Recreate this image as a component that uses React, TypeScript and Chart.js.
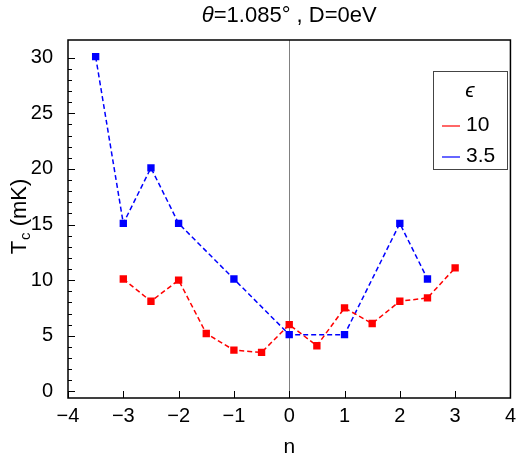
import React, { useEffect, useRef } from "react";
import { Chart, registerables } from "chart.js";

Chart.register(...registerables);

const nRed = [-3, -2.5, -2, -1.5, -1, -0.5, 0, 0.5, 1, 1.5, 2, 2.5, 3];
const tcRed = [10.1, 8.1, 10.0, 5.2, 3.7, 3.5, 6.0, 4.1, 7.5, 6.1, 8.1, 8.4, 11.1];
const nBlue = [-3.5, -3, -2.5, -2, -1, 0, 1, 2, 2.5];
const tcBlue = [30.1, 15.1, 20.1, 15.1, 10.1, 5.1, 5.1, 15.1, 10.1];
const seriesLabels = ["10", "3.5"];
const seriesColors = ["#ff0000", "#0000ff"];
const xTicks = [-4, -3, -2, -1, 0, 1, 2, 3, 4];
const yTicks = [0, 5, 10, 15, 20, 25, 30];
const yMinorTicks = Array.from({ length: 31 }, (_, i) => i);

const FONT = "'Liberation Sans', Arial, sans-serif";

const decorPlugin = {
  id: "decor",
  beforeDatasetsDraw(chart: any) {
    const { ctx, chartArea: a, scales } = chart;
    const x0 = scales.x.getPixelForValue(0);
    ctx.save();
    ctx.strokeStyle = "#808080";
    ctx.lineWidth = 1;
    ctx.beginPath();
    ctx.moveTo(Math.round(x0) + 0.5, a.top);
    ctx.lineTo(Math.round(x0) + 0.5, a.bottom);
    ctx.stroke();
    ctx.restore();
  },
  afterDraw(chart: any) {
    const { ctx, chartArea: a, scales } = chart;
    ctx.save();
    // frame
    ctx.strokeStyle = "#000";
    ctx.lineWidth = 1.5;
    ctx.strokeRect(a.left, a.top, a.right - a.left, a.bottom - a.top);
    // ticks
    ctx.lineWidth = 1;
    ctx.beginPath();
    yMinorTicks.forEach((v) => {
      const y = Math.round(scales.y.getPixelForValue(v)) + 0.5;
      const len = v % 5 === 0 ? 7 : 4;
      ctx.moveTo(a.left, y);
      ctx.lineTo(a.left + len, y);
    });
    xTicks.forEach((v) => {
      const x = Math.round(scales.x.getPixelForValue(v)) + 0.5;
      ctx.moveTo(x, a.bottom);
      ctx.lineTo(x, a.bottom - 7);
    });
    ctx.stroke();

    // title
    ctx.fillStyle = "#000";
    ctx.textBaseline = "middle";
    const cx = (a.left + a.right) / 2;
    const tFont = `22px ${FONT}`;
    const tIt = `italic 22px ${FONT}`;
    ctx.font = tIt;
    const w1 = ctx.measureText("θ").width;
    ctx.font = tFont;
    const rest = "=1.085° , D=0eV";
    const w2 = ctx.measureText(rest).width;
    const tx = cx - (w1 + w2) / 2;
    ctx.textAlign = "left";
    ctx.font = tIt;
    ctx.fillText("θ", tx, 16);
    ctx.font = tFont;
    ctx.fillText(rest, tx + w1, 16);

    // y axis title with subscript
    ctx.save();
    ctx.translate(18, (a.top + a.bottom) / 2 - 2);
    ctx.rotate(-Math.PI / 2);
    const f1 = `22px ${FONT}`;
    const fs = `15px ${FONT}`;
    ctx.font = f1;
    const wT = ctx.measureText("T").width;
    const wR = ctx.measureText(" (mK)").width;
    ctx.font = fs;
    const wC = ctx.measureText("c").width;
    const sx = -(wT + wC + wR) / 2;
    ctx.textAlign = "left";
    ctx.textBaseline = "alphabetic";
    ctx.font = f1;
    ctx.fillText("T", sx, 8);
    ctx.font = fs;
    ctx.fillText("c", sx + wT + 1, 12);
    ctx.font = f1;
    ctx.fillText(" (mK)", sx + wT + wC + 1, 8);
    ctx.restore();

    // legend
    const lx = 433, ly = 71, lw = 74, lh = 98;
    ctx.fillStyle = "#fff";
    ctx.fillRect(lx, ly, lw, lh);
    ctx.strokeStyle = "#444";
    ctx.lineWidth = 1;
    ctx.strokeRect(lx + 0.5, ly + 0.5, lw, lh);
    ctx.fillStyle = "#000";
    ctx.textBaseline = "middle";
    ctx.textAlign = "center";
    ctx.font = `italic 21px ${FONT}`;
    ctx.fillText("ϵ", lx + lw / 2, ly + 20);
    ctx.textAlign = "left";
    ctx.font = `21px ${FONT}`;
    seriesLabels.forEach((lab, i) => {
      const yy = ly + 54 + i * 31;
      ctx.strokeStyle = seriesColors[i];
      ctx.lineWidth = 1.2;
      ctx.beginPath();
      ctx.moveTo(lx + 9, yy + 1);
      ctx.lineTo(lx + 27, yy + 1);
      ctx.stroke();
      ctx.fillText(lab, lx + 33, yy);
    });
    ctx.restore();
  },
};

export default function App() {
  const ref = useRef<HTMLCanvasElement>(null);
  useEffect(() => {
    document.body.style.margin = "0";
    const mk = (i: number, xs: number[], ys: number[]) => ({
      label: seriesLabels[i],
      data: xs.map((x, k) => ({ x, y: ys[k] })),
      borderColor: seriesColors[i],
      backgroundColor: seriesColors[i],
      borderWidth: 1.5,
      borderDash: [5, 3],
      pointStyle: "rect",
      pointRadius: 5.2,
      pointBorderWidth: 0,
    });
    const chart = new Chart(ref.current!, {
      type: "line",
      data: {
        datasets: [mk(0, nRed, tcRed), mk(1, nBlue, tcBlue)],
      },
      options: {
        animation: false,
        responsive: false,
        layout: { padding: { top: 40, right: 7, left: 0, bottom: 0 } },
        plugins: { legend: { display: false }, tooltip: { enabled: false }, title: { display: false } },
        scales: {
          x: {
            type: "linear",
            min: -4,
            max: 4,
            afterBuildTicks: (s: any) => {
              s.ticks = xTicks.map((v) => ({ value: v }));
            },
            afterFit: (s: any) => {
              s.height = 62;
            },
            grid: { display: false, drawTicks: false },
            border: { display: false },
            ticks: {
              color: "#000",
              font: { family: FONT, size: 20 },
              padding: 6,
              maxRotation: 0,
              callback: (v: any) => String(v).replace("-", "−"),
            },
            title: {
              display: true,
              text: "n",
              color: "#000",
              font: { family: FONT, size: 21 },
              padding: { top: 4, bottom: 0 },
            },
          },
          y: {
            type: "linear",
            min: -0.6,
            max: 31.6,
            afterBuildTicks: (s: any) => {
              s.ticks = yTicks.map((v) => ({ value: v }));
            },
            afterFit: (s: any) => {
              s.width = 68;
            },
            grid: { display: false, drawTicks: false },
            border: { display: false },
            ticks: {
              color: "#000",
              font: { family: FONT, size: 20 },
              padding: 15,
            },
          },
        },
      },
      plugins: [decorPlugin],
    } as any);
    return () => chart.destroy();
  }, []);
  return (
    <div style={{ position: "absolute", left: 0, top: 0, width: 522, height: 460 }}>
      <canvas ref={ref} width={522} height={460} style={{ width: 522, height: 460 }} />
    </div>
  );
}
